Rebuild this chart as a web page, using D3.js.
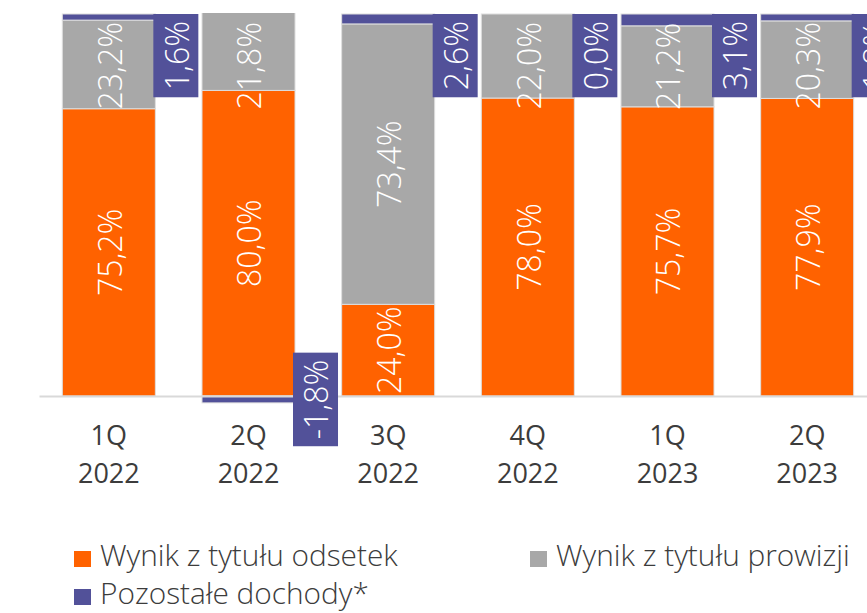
<!DOCTYPE html>
<html>
<head>
<meta charset="utf-8">
<script src="https://cdn.jsdelivr.net/npm/d3@7"></script>
<style>
  body { margin: 0; background: #fff; }
  svg { display: block; }
</style>
</head>
<body>
<div class="chart"></div>
<script>
// data
const categories = ["1Q 2022", "2Q 2022", "3Q 2022", "4Q 2022", "1Q 2023", "2Q 2023"];
const odsetki = [75.2, 80.0, 24.0, 78.0, 75.7, 77.9];
const prowizje = [23.2, 21.8, 73.4, 22.0, 21.2, 20.3];
const pozostale = [1.6, -1.8, 2.6, 0.0, 3.1, 1.8];
const seriesNames = ["Wynik z tytułu odsetek", "Wynik z tytułu prowizji", "Pozostałe dochody*"];
const colors = ["#FF6200", "#A8A8A8", "#525199"];

const width = 867, height = 613;
const labelFont = "'Open Sans', sans-serif";
const squeeze = 0.97;
const fmt = v => d3.format(".1f")(v).replace(".", ",").replace("\u2212", "-") + "%";

const svg = d3.select(".chart").append("svg")
    .attr("width", width)
    .attr("height", height)
    .style("font-family", "'Open Sans', sans-serif");

// #region scales
const x = d3.scaleBand()
    .domain(categories)
    .range([39, 877])
    .paddingInner(0.334)
    .paddingOuter(0.167);

const y = d3.scaleLinear()
    .domain([0, 100])
    .range([396, 14]);
const clipTop = 13;

svg.append("clipPath").attr("id", "plotClip")
    .append("rect").attr("x", 0).attr("y", clipTop).attr("width", width).attr("height", height);
// #endregion

// #region segments
const segs = [];
categories.forEach((c, i) => {
    const o = odsetki[i], p = prowizje[i], r = pozostale[i];
    segs.push({ c, s: 0, y0: 0, y1: o, v: o });
    segs.push({ c, s: 1, y0: o, y1: o + p, v: p });
    if (r >= 0) segs.push({ c, s: 2, y0: o + p, y1: o + p + r, v: r });
    else segs.push({ c, s: 2, y0: r, y1: 0, v: r });
});

const gBars = svg.append("g").attr("clip-path", "url(#plotClip)");
gBars.selectAll("rect")
    .data(segs)
    .enter()
    .append("rect")
    .attr("x", d => x(d.c))
    .attr("width", x.bandwidth())
    .attr("y", d => y(d.y1))
    .attr("height", d => y(d.y0) - y(d.y1))
    .attr("fill", d => colors[d.s])
    .attr("stroke", "#dedede")
    .attr("stroke-width", 1);
// #endregion

// #region axis
const gX = svg.append("g")
    .attr("transform", "translate(0," + y(0) + ")")
    .call(d3.axisBottom(x).tickSize(0).tickSizeOuter(0));
gX.select(".domain").attr("stroke", "#d9d9d9").attr("stroke-width", 2);
gX.selectAll(".tick text").each(function (d) {
    const t = d3.select(this).text("").attr("y", 0).attr("dy", null)
        .attr("fill", "#3c3c3c").attr("font-size", 27)
        .attr("font-family", "'Open Sans', sans-serif");
    d.split(" ").forEach((part, k) => {
        t.append("tspan").attr("x", 0).attr("y", k == 0 ? 49 : 87).text(part);
    });
});
// #endregion

// #region labels on orange and gray
const gLab = svg.append("g").attr("class", "labels");
function addLabel(g, txt) {
    const t = g.append("text")
        .text(txt)
        .attr("text-anchor", "middle")
        .attr("dominant-baseline", "central")
        .attr("font-family", labelFont)
        .attr("font-weight", 300)
        .attr("font-size", 33)
        .attr("fill", "#fff");
    return { t, len: t.node().getComputedTextLength() * squeeze };
}
segs.filter(d => d.s < 2).forEach(d => {
    const cx = x(d.c) + x.bandwidth() / 2;
    const { t, len } = addLabel(gLab, fmt(d.v));
    let cy = (Math.max(y(d.y1), clipTop) + y(d.y0)) / 2;
    cy = Math.max(cy, clipTop + 9 + len / 2);
    t.attr("transform", "translate(" + cx + "," + cy + ") rotate(-90) scale(" + squeeze + ",1)");
});
// #endregion

// #region boxed labels for Pozostałe dochody
segs.filter(d => d.s == 2).forEach(d => {
    const bx = x(d.c) + x.bandwidth() - 2;
    const g = gLab.append("g");
    const box = g.append("rect").attr("fill", colors[2]);
    const { t, len } = addLabel(g, fmt(d.v));
    const h = len + 14, w = 45;
    let cy = (y(d.y0) + y(d.y1)) / 2;
    cy = Math.max(cy, y(100) + h / 2);
    box.attr("x", bx).attr("y", cy - h / 2).attr("width", w).attr("height", h);
    t.attr("transform", "translate(" + (bx + w / 2) + "," + cy + ") rotate(-90) scale(" + squeeze + ",1)");
});
// #endregion

// #region legend
const legendPos = [[74, 551], [530, 551], [74, 589]];
const gLegend = svg.append("g").attr("class", "legend");
seriesNames.forEach((name, i) => {
    const g = gLegend.append("g").attr("transform", "translate(" + legendPos[i][0] + "," + legendPos[i][1] + ")");
    g.append("rect").attr("width", 17).attr("height", 16).attr("fill", colors[i]);
    g.append("text")
        .attr("x", 26)
        .attr("y", 15)
        .attr("font-size", 29.8)
        .attr("font-weight", 300)
        .attr("fill", "#3c3c3c")
        .text(name);
});
// #endregion
</script>
</body>
</html>
